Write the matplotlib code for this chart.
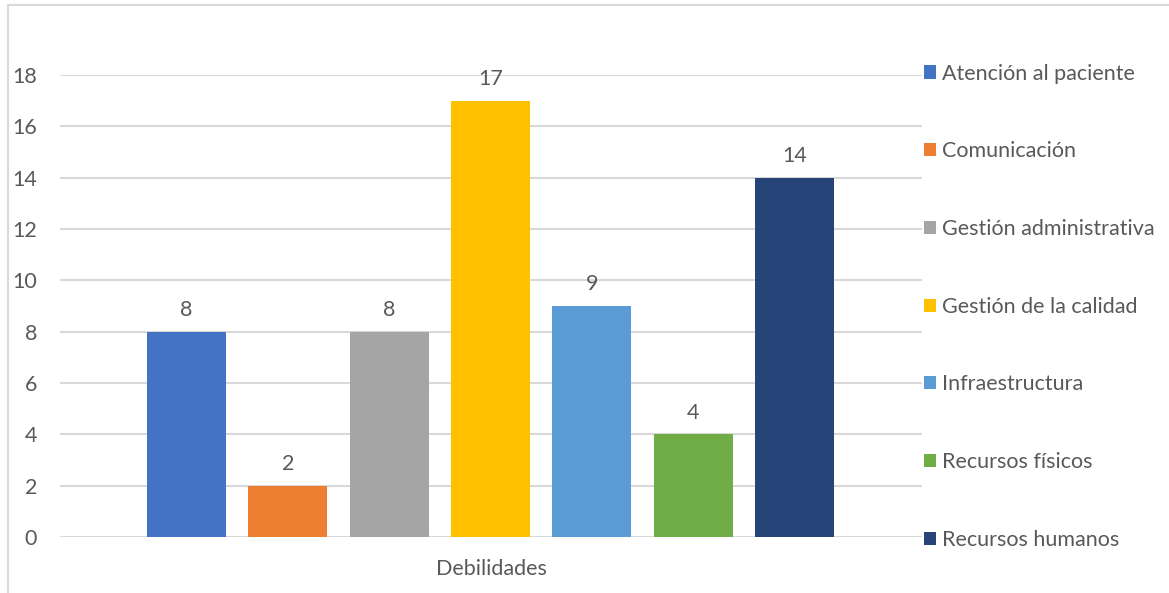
import matplotlib
matplotlib.use('Agg')
import matplotlib.pyplot as plt
from matplotlib.patches import Rectangle

categorias = ['Atención al paciente', 'Comunicación', 'Gestión administrativa',
              'Gestión de la calidad', 'Infraestructura', 'Recursos físicos',
              'Recursos humanos']
valores = [8, 2, 8, 17, 9, 4, 14]
colores = ['#4472C4', '#ED7D31', '#A5A5A5', '#FFC000', '#5B9BD5', '#70AD47', '#264478']
yticks = [0, 2, 4, 6, 8, 10, 12, 14, 16, 18]

plt.rcParams['font.family'] = ['Lato', 'DejaVu Sans']
texto = '#595959'
fs = 15.5

fig = plt.figure(figsize=(11.69, 5.93), dpi=100)
ax = fig.add_axes([60 / 1169, 1 - 537 / 593, 862 / 1169, (537 - 75) / 593])

barras = []
for i, (cat, v, c) in enumerate(zip(categorias, valores, colores)):
    b = ax.bar(i, v, width=0.78, color=c, label=cat, zorder=3)
    barras.append(b)
    ax.text(i, v + 0.45, str(v), ha='center', va='bottom', fontsize=fs, color=texto)

ax.set_xlim(-1.25, 7.26)
ax.set_ylim(0, 18)
ax.set_yticks(yticks)
ax.set_xticks([])
ax.yaxis.grid(True, color='#D9D9D9', linewidth=1.5, zorder=0)
ax.tick_params(axis='y', length=0, pad=16.5, labelsize=fs, labelcolor=texto)
for s in ax.spines.values():
    s.set_visible(False)
ax.set_xlabel('Debilidades', fontsize=fs, color=texto, labelpad=16)

leg = fig.legend(handles=barras, labels=categorias, loc='upper left',
                 bbox_to_anchor=(915 / 1169, 1 - 55 / 593), frameon=False,
                 fontsize=fs, labelcolor=texto, handlelength=0.56, handleheight=0.56,
                 handletextpad=0.28, labelspacing=2.68, borderaxespad=0)

# borde del gráfico
fig.add_artist(Rectangle((8 / 1169, -0.05), 1.1, 1.05 - 5 / 593,
                         transform=fig.transFigure, fill=False,
                         edgecolor='#D9D9D9', linewidth=1.5, clip_on=False))

fig.savefig('out.png', dpi=100)
